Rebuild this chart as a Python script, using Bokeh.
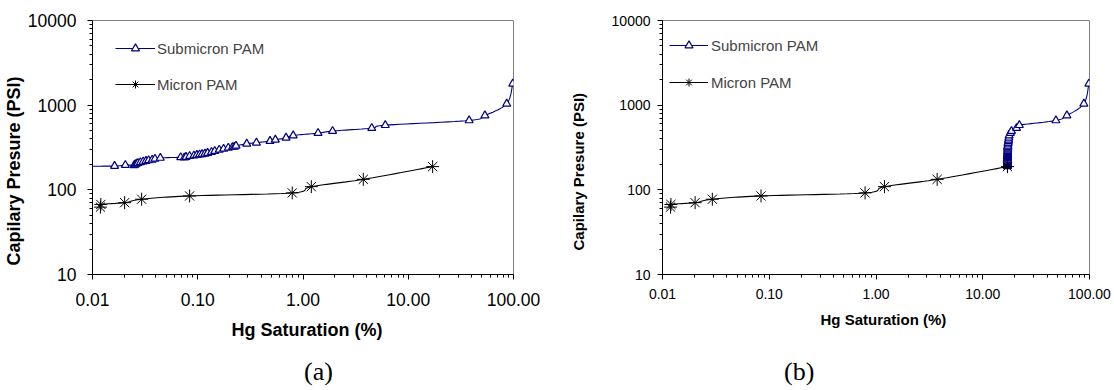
import numpy as np
from bokeh.plotting import figure
from bokeh.layouts import row, column
from bokeh.models import FixedTicker, Legend, LegendItem, Title, Div
from bokeh.embed import file_html
from bokeh.resources import INLINE

# ---------------- data ----------------
# (a) Submicron PAM
sub_a_x = [0.008, 0.0162, 0.0205, 0.0249, 0.0255, 0.0262, 0.0270, 0.0285, 0.0303, 0.0322,
           0.0341, 0.0369, 0.0392, 0.0441, 0.0689, 0.0745, 0.0774, 0.0837, 0.0920, 0.0980,
           0.104, 0.110, 0.117, 0.124, 0.135, 0.145, 0.160, 0.176, 0.195, 0.214,
           0.223, 0.231, 0.292, 0.361, 0.486, 0.546, 0.690, 0.807, 1.39, 1.91,
           4.50, 6.05, 37.9, 53.5, 86.2, 98.4]
sub_y = [190, 191, 196, 195, 199, 204, 207, 211, 215, 219,
         223, 226, 232, 238, 242, 240, 244, 250, 254, 258,
         261, 263, 267, 272, 279, 287, 297, 305, 313, 320,
         322, 331, 350, 360, 377, 390, 412, 438, 468, 494,
         536, 580, 660, 755, 1040, 1790]
# (b) Submicron PAM (combined saturation)
sub_b_x = [17.007, 17.013, 17.017, 17.021, 17.021, 17.022, 17.022, 17.024, 17.025, 17.027,
           17.028, 17.031, 17.033, 17.037, 17.057, 17.062, 17.064, 17.069, 17.076, 17.081,
           17.086, 17.091, 17.097, 17.103, 17.112, 17.120, 17.133, 17.146, 17.162, 17.178,
           17.185, 17.192, 17.242, 17.300, 17.403, 17.453, 17.573, 17.670, 18.154, 18.585,
           20.735, 22.02, 48.46, 61.41, 88.55, 98.67]
# Micron PAM (same in both panels)
mic_x = [0.0119, 0.0120, 0.0202, 0.0293, 0.0837, 0.790, 1.20, 3.74, 17.05]
mic_y = [62.5, 67.2, 70.5, 77.5, 84.7, 92.0, 109, 133, 188]

x_ticks = [0.01, 0.1, 1, 10, 100]
x_tick_labels = ["0.01", "0.10", "1.00", "10.00", "100.00"]
y_ticks = [10, 100, 1000, 10000]
y_tick_labels = ["10", "100", "1000", "10000"]

BLUE = "#000080"
FONT = "Liberation Sans"


def smooth(xs, ys, n=14):
    lx = np.log10(np.asarray(xs, float))
    ly = np.log10(np.asarray(ys, float))
    P = np.column_stack([lx, ly])
    out = []
    m = len(P)
    for i in range(m - 1):
        p0 = P[i - 1] if i > 0 else P[i]
        p1 = P[i]
        p2 = P[i + 1]
        p3 = P[i + 2] if i + 2 < m else P[i + 1]
        c1 = p1 + (p2 - p0) / 6.0
        c2 = p2 - (p3 - p1) / 6.0
        for t in np.linspace(0, 1, n, endpoint=False):
            b = ((1 - t) ** 3) * p1 + 3 * ((1 - t) ** 2) * t * c1 + 3 * (1 - t) * t * t * c2 + t ** 3 * p2
            out.append(b)
    out.append(P[-1])
    out = np.array(out)
    return 10 ** out[:, 0], 10 ** out[:, 1]


def minor(decades):
    return [m * d for d in decades for m in range(2, 10)]


def panel(sub_x, w, h, bl, br, bt, bb, tick_fs, x_std, y_std, title_fs,
          xt_off, xt_std, yt_off, yt_std, legend_loc, glyph_w, standoff, spacing):
    p = figure(x_axis_type="log", y_axis_type="log", x_range=(0.01, 100), y_range=(10, 10000),
               width=w, height=h, min_border_left=bl, min_border_right=br,
               min_border_top=bt, min_border_bottom=bb, toolbar_location=None,
               output_backend="svg", background_fill_color="white", border_fill_color="white")
    p.grid.visible = False
    p.outline_line_color = "#808080"
    p.outline_line_width = 1

    p.xaxis.ticker = FixedTicker(ticks=x_ticks, minor_ticks=minor([0.01, 0.1, 1, 10]))
    p.yaxis.ticker = FixedTicker(ticks=y_ticks, minor_ticks=minor([10, 100, 1000]))
    p.xaxis.major_label_overrides = {t: l for t, l in zip(x_ticks, x_tick_labels)}
    p.yaxis.major_label_overrides = {t: l for t, l in zip(y_ticks, y_tick_labels)}
    for ax in (p.xaxis[0], p.yaxis[0]):
        ax.axis_line_color = "black"
        ax.major_tick_line_color = "black"
        ax.minor_tick_line_color = "black"
        ax.major_tick_in = 0
        ax.major_tick_out = 5
        ax.minor_tick_in = 0
        ax.minor_tick_out = 3
        ax.major_label_text_font = FONT
        ax.major_label_text_font_size = tick_fs
        ax.major_label_text_color = "black"
    p.xaxis.major_label_standoff = x_std
    p.yaxis.major_label_standoff = y_std

    sx, sy = smooth(sub_x, sub_y)
    l1 = p.line(sx, sy, line_color=BLUE, line_width=1.1)
    s1 = p.scatter(sub_x, sub_y, marker="triangle", size=8, line_color=BLUE, fill_color="white",
                   line_width=1.2)
    mx, my = smooth(mic_x, mic_y)
    l2 = p.line(mx, my, line_color="black", line_width=1.1)
    s2 = p.scatter(mic_x, mic_y, marker="asterisk", size=13, line_color="black", line_width=1.0)

    leg = Legend(items=[LegendItem(label="Submicron PAM", renderers=[l1, s1]),
                        LegendItem(label="Micron PAM", renderers=[l2, s2])],
                 location=legend_loc, glyph_width=glyph_w, glyph_height=20, label_height=20,
                 label_standoff=standoff, spacing=spacing, padding=0, margin=0,
                 border_line_color=None, background_fill_alpha=0,
                 label_text_font=FONT, label_text_font_size="15px")
    p.add_layout(leg)

    p.add_layout(Title(text="Hg Saturation (%)", align="left", offset=xt_off, standoff=xt_std,
                       vertical_align="middle", text_font=FONT, text_font_style="bold",
                       text_font_size=title_fs, text_color="black"), "below")
    p.add_layout(Title(text="Capilary Presure (PSI)", align="left", offset=yt_off, standoff=yt_std,
                       vertical_align="middle", text_font=FONT, text_font_style="bold",
                       text_font_size=title_fs, text_color="black"), "left")
    return p


# panel (a): page x 0..548, frame 92..513, frame y 20..274
pa = panel(sub_a_x, 548, 355, 92, 35, 20, 81, "17.5px", 13, 11, "18px",
           139, 20, 9, 0, (23, 180), 40, 2, 16)
# panel (b): page x 548..1114, frame 661..1089, frame y 16..275
pb = panel(sub_b_x, 566, 355, 113, 25, 16, 80, "14px", 9, 7, "15px",
           158, 17, 24, 41, (7, 182), 39, 3, 17)

cap_style = "font-family:'Liberation Serif';font-size:26px;line-height:34px;color:black;white-space:nowrap"
da = Div(text=f'<div style="padding-left:304px;{cap_style}">(a)</div>', width=548, height=34, margin=0)
db = Div(text=f'<div style="padding-left:236px;{cap_style}">(b)</div>', width=566, height=34, margin=0)

layout = column(row(pa, pb), row(da, db))
open("out.html", "w").write(file_html(layout, INLINE))
